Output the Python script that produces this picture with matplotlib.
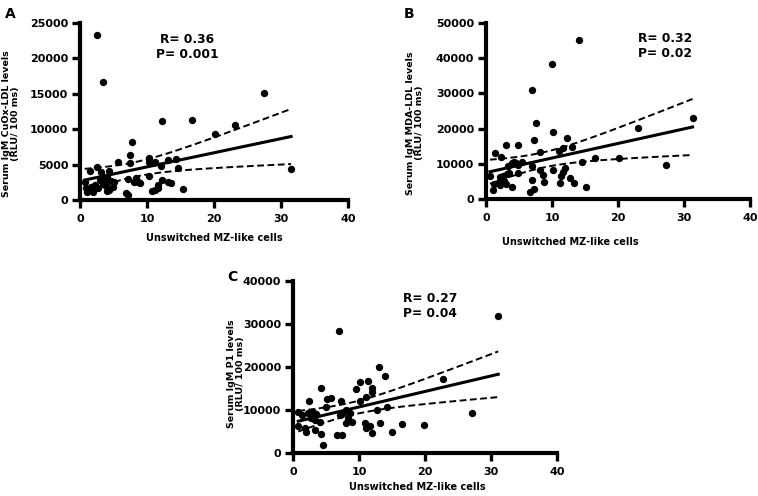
import numpy as np
import matplotlib
matplotlib.use("Agg")
import matplotlib.pyplot as plt

plt.rcParams['font.family'] = ['DejaVu Sans']
plt.rcParams['font.weight'] = 'bold'

# === Data ===
# Panel A: IgM CuOx-LDL
x_a = [2.5, 3.5, 27.4, 12.3, 16.7, 23.1, 20.2, 7.8, 7.5, 10.3, 5.7, 7.4, 10.3, 11.2,
       12.1, 13.2, 14.3, 14.6, 15.3, 31.5, 1.45, 2.6, 3.2, 4.4, 0.7, 3.4, 3.7, 4.7,
       1.9, 1.2, 1.9, 2.7, 4.4, 4.9, 6.9, 7.2, 7.2, 8.4, 8.9, 10.3, 11.2, 11.7, 12.2,
       13.2, 13.6, 3.0, 8.6, 4.0,
       1.0, 2.2, 1.6, 3.5, 4.1, 5.0, 11.6, 0.9, 3.9, 8.0, 10.8, 2.0]
y_a = [23300, 16700, 15100, 11200, 11300, 10600, 9250, 8200, 6330, 5960, 5400, 5160,
       5400, 5400, 4790, 5630, 5730, 4550, 1500, 4370, 4080, 4690, 3990, 4080, 2580,
       3280, 2580, 2680, 1870, 1410, 1170, 1650, 1410, 1870, 940, 700, 2910, 3050,
       2350, 3380, 1410, 2110, 2820, 2580, 2350, 2800, 2600, 3300,
       1130, 2100, 1800, 2200, 1200, 2500, 1700, 1700, 2000, 2600, 1200, 1300]

# Panel B: IgM MDA-LDL
x_b = [14.1, 10.0, 6.9, 7.6, 7.3, 10.2, 12.2, 11.6, 13.0, 11.1, 8.2, 3.1, 4.8, 1.3,
       2.3, 23.0, 31.3, 27.3, 16.5, 20.1, 14.6, 0.6, 1.0, 1.2, 1.9, 2.1, 2.5, 2.8,
       3.2, 3.4, 3.9, 4.2, 4.6, 4.9, 5.4, 3.1, 4.0, 2.1, 3.5, 4.8, 7.0, 6.9, 7.2,
       6.6, 8.2, 8.7, 8.8, 10.1, 11.2, 11.4, 11.7, 12.0, 12.8, 13.4, 15.2]
y_b = [45100, 38300, 30900, 21700, 16800, 18900, 17200, 14600, 14700, 13500, 13300,
       15400, 15200, 13000, 11900, 20100, 23100, 9700, 11700, 11700, 10500, 6600,
       2640, 4240, 4700, 6300, 6400, 5100, 7000, 9500, 10200, 10400, 10200, 9600,
       10600, 4240, 3300, 3870, 7500, 7400, 9400, 5500, 2830, 1900, 8300, 6900,
       4700, 8100, 4500, 6400, 7700, 8800, 5900, 4500, 3400]

# Panel C: IgM P1
x_c = [31.1, 7.0, 13.0, 14.0, 22.8, 10.1, 11.4, 12.0, 12.0, 9.6, 11.1, 10.1, 4.3,
       5.1, 5.7, 2.4, 7.3, 5.0, 12.8, 14.2, 27.1, 0.8, 1.3, 2.2, 3.0, 3.5, 2.8, 3.3,
       4.1, 0.8, 1.8, 2.0, 3.3, 4.2, 4.6, 6.6, 7.4, 7.1, 7.6, 8.1, 8.6, 8.4, 8.1,
       8.9, 10.9, 11.1, 11.9, 11.6, 13.2, 15.0, 16.5, 19.9]
y_c = [31900, 28300, 20100, 17800, 17100, 16400, 16700, 15200, 14100, 14800, 13100,
       12200, 15200, 12500, 12800, 12200, 12200, 10600, 10000, 10600, 9400, 9600,
       8800, 9200, 9600, 9100, 8100, 7700, 7300, 6200, 5800, 5000, 5400, 4400, 1900,
       4100, 4200, 8800, 9200, 10000, 9200, 8100, 6900, 7300, 6900, 5800, 4600,
       6200, 6900, 4800, 6800, 6500]

panels = [
    dict(letter='A', x=x_a, y=y_a, ymax=25000, ystep=5000,
         ylabel='Serum IgM CuOx-LDL levels\n(RLU/ 100 ms)', stats='R= 0.36\nP= 0.001'),
    dict(letter='B', x=x_b, y=y_b, ymax=50000, ystep=10000,
         ylabel='Serum IgM MDA-LDL levels\n(RLU/ 100 ms)', stats='R= 0.32\nP= 0.02'),
    dict(letter='C', x=x_c, y=y_c, ymax=40000, ystep=10000,
         ylabel='Serum IgM P1 levels\n(RLU/ 100 ms)', stats='R= 0.27\nP= 0.04'),
]

W, H = 758, 496
# axes boxes in pixels: left, top, right, bottom
boxes = [(80, 22.7, 348, 200), (486, 23, 750, 199), (293, 281, 557, 453)]
letter_pos = [(5, 7), (404, 7), (227, 270)]
stats_pos = [(187, 47), (665, 46), (430, 306)]
ylabel_pos = [(11, 124), (415, 123), (236, 374)]
xlabel_pos = [(214, 238), (570, 242), (417, 487)]


def fig_xy(px, py):
    return px / W, 1 - py / H


def add_fit(ax, x, y):
    # least squares line with 95% confidence band
    x = np.asarray(x, float)
    y = np.asarray(y, float)
    n = len(x)
    b, a = np.polyfit(x, y, 1)
    xs = np.linspace(x.min(), x.max(), 100)
    yhat = a + b * xs
    resid = y - (a + b * x)
    s = np.sqrt(np.sum(resid ** 2) / (n - 2))
    sxx = np.sum((x - x.mean()) ** 2)
    se = s * np.sqrt(1.0 / n + (xs - x.mean()) ** 2 / sxx)
    t = 2.0
    ax.plot(xs, yhat, color='black', lw=2.2, zorder=3)
    ax.plot(xs, yhat + t * se, color='black', lw=1.4, ls=(0, (3.5, 1.8)), zorder=3)
    ax.plot(xs, yhat - t * se, color='black', lw=1.4, ls=(0, (3.5, 1.8)), zorder=3)


fig = plt.figure(figsize=(W / 100, H / 100), dpi=100)

for i, p in enumerate(panels):
    l, t, r, b = boxes[i]
    ax = fig.add_axes([l / W, 1 - b / H, (r - l) / W, (b - t) / H])
    ax.scatter(p['x'], p['y'], s=28, color='black', zorder=4, clip_on=False,
               linewidths=0)
    add_fit(ax, p['x'], p['y'])
    ax.set_xlim(0, 40)
    ax.set_ylim(0, p['ymax'])
    ax.set_xticks(range(0, 41, 10))
    ax.set_yticks(np.arange(0, p['ymax'] + 1, p['ystep']))
    for side in ['top', 'right']:
        ax.spines[side].set_visible(False)
    for side in ['left', 'bottom']:
        ax.spines[side].set_linewidth(3.0)
    ax.tick_params(width=2.4, length=5.5, labelsize=8)
    ax.tick_params(axis='x', pad=4.5)
    ax.tick_params(axis='y', pad=3)
    for lab in ax.get_xticklabels() + ax.get_yticklabels():
        lab.set_fontweight('bold')

    fx, fy = fig_xy(*letter_pos[i])
    fig.text(fx, fy, p['letter'], fontsize=10, fontweight='bold', ha='left', va='top')
    fx, fy = fig_xy(*stats_pos[i])
    fig.text(fx, fy, p['stats'], fontsize=8.8, fontweight='bold', ha='center',
             va='center', linespacing=1.15)
    fx, fy = fig_xy(*ylabel_pos[i])
    fig.text(fx, fy, p['ylabel'], fontsize=6.8, fontweight='bold', ha='center',
             va='center', rotation=90, linespacing=1.05)
    fx, fy = fig_xy(*xlabel_pos[i])
    fig.text(fx, fy, 'Unswitched MZ-like cells', fontsize=7, fontweight='bold',
             ha='center', va='center')

fig.savefig('out.png', dpi=100, facecolor='white')
